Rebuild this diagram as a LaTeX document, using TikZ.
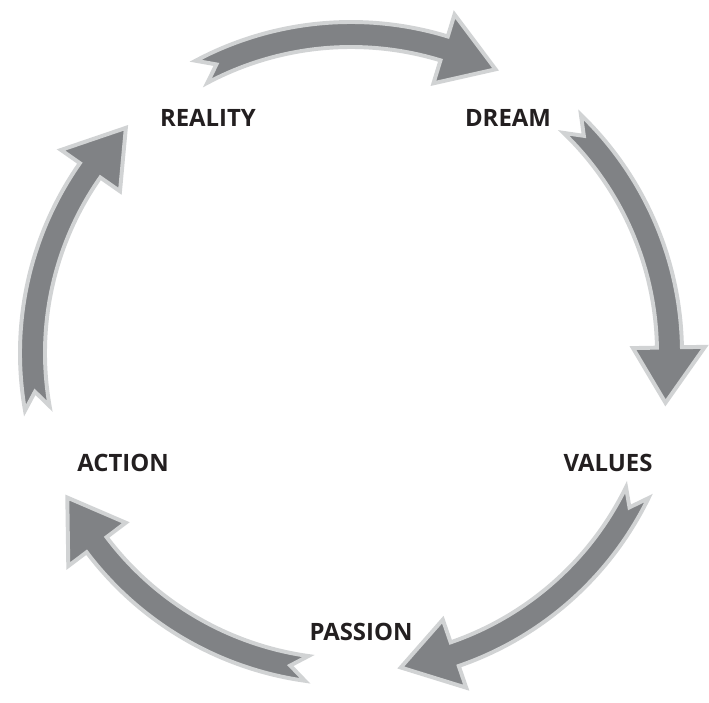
\documentclass[tikz,border=0pt]{standalone}
\usepackage{fontspec}
\setmainfont{Open Sans}
\usepackage{tikz}
\definecolor{arrgrey}{RGB}{128,130,133}
\definecolor{arrrim}{RGB}{209,211,212}
\definecolor{txtblack}{RGB}{35,31,32}

\begin{document}
\begin{tikzpicture}
[arr/.style={fill=arrgrey,draw=arrrim,line width=2.8pt,line join=miter},
 lbl/.style={font=\bfseries\fontsize{17}{20}\selectfont,text=txtblack}]
\useasboundingbox (-8.775,-8.725) rectangle (8.95,8.825);
% five bent arrows round the cycle
\foreach \a in {118,46,-26,-98,-170}
  \filldraw[arr] (\a:8.275)
    arc[start angle=\a, end angle=\a-45, radius=8.275]
    -- ({\a-45}:8.85) -- ({\a-55}:7.96) -- ({\a-45}:7.05) -- ({\a-45}:7.65)
    arc[start angle=\a-45, end angle=\a, radius=7.65]
    -- ({\a-3}:7.96) -- cycle;
\node[lbl] (reality) at (-3.575,5.875) {REALITY};
\node[lbl] (dream)   at (3.925,5.875)  {DREAM};
\node[lbl] (values)  at (6.425,-2.75)  {VALUES};
\node[lbl] (passion) at (0.25,-6.975)  {PASSION};
\node[lbl] (action)  at (-5.7,-2.75)   {ACTION};
\end{tikzpicture}
\end{document}
